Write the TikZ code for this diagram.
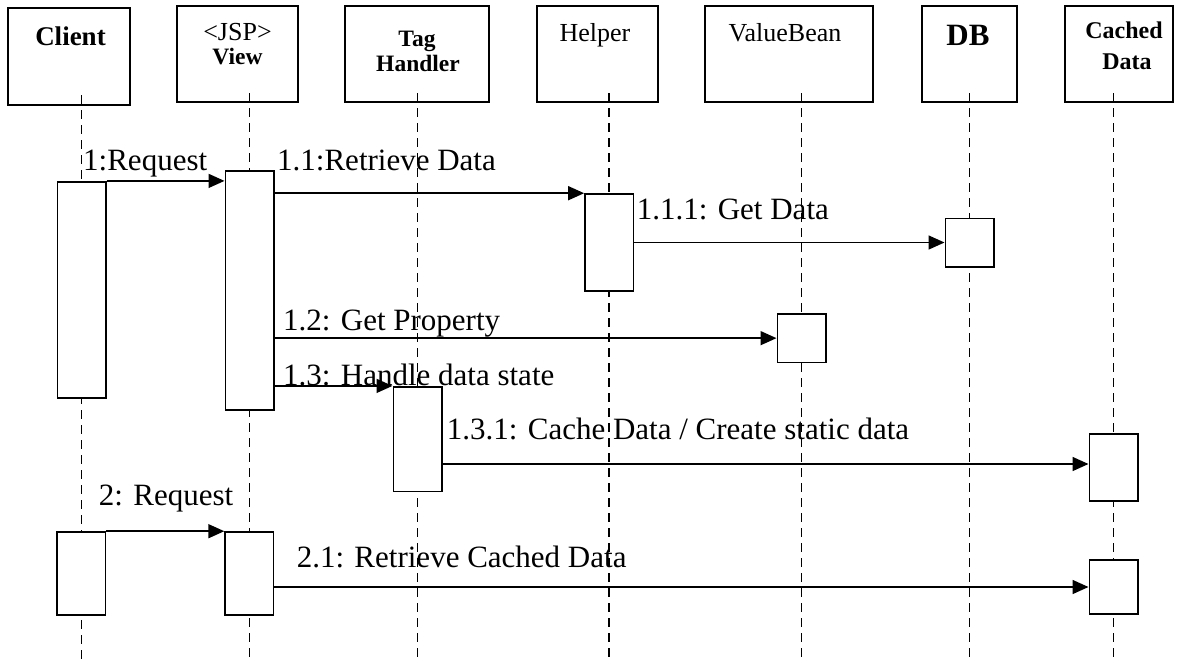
\documentclass[tikz,border=0pt]{standalone}
\usepackage{fontspec}
\setmainfont{Liberation Serif}
\usetikzlibrary{arrows.meta}
\begin{document}
\begin{tikzpicture}[x=1pt,y=-1pt,
  hbox/.style={draw, line width=1.6pt, inner sep=0pt, outer sep=0pt, anchor=north west},
  act/.style={draw, fill=white, line width=1.6pt, inner sep=0pt, minimum width=48.4pt},
  lifeline/.style={line width=1.5pt, dash pattern=on 9pt off 6pt},
  msg/.style={line width=1.6pt, -{Triangle[length=16pt,width=14pt]}},
  lbl/.style={font=\fontsize{31}{37}\selectfont, anchor=base west, inner sep=0pt},
  hreg/.style={font=\fontsize{26}{31}\selectfont, anchor=base, inner sep=0pt},
  hbold/.style={font=\bfseries\fontsize{23.5}{28}\selectfont, anchor=base, inner sep=0pt}]
\useasboundingbox (0,0) rectangle (1184,662);

% header boxes
\node[hbox, minimum width=122pt, minimum height=97pt] (hC) at (8,8) {};
\node[hbox, minimum width=121pt, minimum height=96pt] (hV) at (177,6) {};
\node[hbox, minimum width=144pt, minimum height=96pt] (hT) at (345,6) {};
\node[hbox, minimum width=121pt, minimum height=96pt] (hH) at (537,6) {};
\node[hbox, minimum width=168pt, minimum height=96pt] (hVB) at (705,6) {};
\node[hbox, minimum width=95pt, minimum height=96pt] (hDB) at (922,6) {};
\node[hbox, minimum width=108pt, minimum height=96pt] (hCD) at (1065,6) {};

% header texts
\node[hbold, font=\bfseries\fontsize{27}{32}\selectfont] (tC) at (70.5,45) {Client};
\node[hreg] (tV1) at (237.5,40.5) {<JSP>};
\node[hbold] (tV2) at (237.5,64) {View};
\node[hbold] (tT1) at (417,46.5) {Tag};
\node[hbold] (tT2) at (418,71.5) {Handler};
\node[hreg] (tH) at (595,41.5) {Helper};
\node[hreg] (tVB) at (785,41) {ValueBean};
\node[hbold, font=\bfseries\fontsize{31}{36}\selectfont] (tDB) at (968,45) {DB};
\node[hbold, font=\bfseries\fontsize{24}{29}\selectfont] (tCD1) at (1124,38.3) {Cached};
\node[hbold, font=\bfseries\fontsize{24}{29}\selectfont] (tCD2) at (1127,69.3) {Data};

% lifelines
\coordinate (bot) at (0,662);
\coordinate (lC) at (81.5,95);
\coordinate (lV) at (249.3,93);
\coordinate (lT) at (417.5,93);
\coordinate (lH) at (609,93);
\coordinate (lVB) at (801.5,93);
\coordinate (lDB) at (969.5,93);
\coordinate (lCD) at (1113.5,93);
\foreach \l in {lC,lV,lT,lH,lVB,lDB,lCD}
  \draw[lifeline] (\l) -- (\l |- bot);

% activation boxes
\node[act, minimum height=216pt] (C1) at (81.5,289.7) {};
\node[act, minimum height=239.3pt] (V1) at (249.5,290.35) {};
\node[act, minimum height=96.7pt] (H1) at (609.15,242.35) {};
\node[act, minimum height=48.4pt] (DB1) at (969.5,242.5) {};
\node[act, minimum height=48.3pt] (VB1) at (801.5,338.15) {};
\node[act, minimum height=104.9pt] (T1) at (417.5,439.15) {};
\node[act, minimum height=67pt] (CD1) at (1113.5,467.5) {};
\node[act, minimum height=83pt] (C2) at (81.3,573.5) {};
\node[act, minimum height=83pt] (V2) at (249.3,573.5) {};
\node[act, minimum height=54pt] (CD2) at (1113.5,587) {};

% messages
\coordinate (y131) at (0,464);
\draw[msg] (C1.north east) -- (C1.north east -| V1.west);
\draw[msg] (V1.east |- H1.north west) -- (H1.north west);
\draw[msg] (H1.east |- DB1.west) -- (DB1.west);
\draw[msg] (V1.east |- VB1.west) -- (VB1.west);
\draw[msg] (V1.east |- T1.north west) -- (T1.north west);
\draw[msg] (T1.east |- y131) -- (CD1.west |- y131);
\draw[msg] (C2.north east) -- (C2.north east -| V2.west);
\draw[msg] (V2.east |- CD2.west) -- (CD2.west);

% message labels
\node[lbl] (m1) at (83,170) {1:Request};
\node[lbl] (m11) at (277,170) {1.1:Retrieve Data};
\node[lbl] (m111) at (636.7,219.3) {1.1.1: Get Data};
\node[lbl] (m12) at (283,330) {1.2: Get Property};
\node[lbl] (m13) at (283,385) {1.3: Handle data state};
\node[lbl] (m131) at (446.7,439.3) {1.3.1: Cache Data / Create static data};
\node[lbl] (m2) at (98.7,505) {2: Request};
\node[lbl] (m21) at (296.6,567) {2.1: Retrieve Cached Data};
\end{tikzpicture}
\end{document}
